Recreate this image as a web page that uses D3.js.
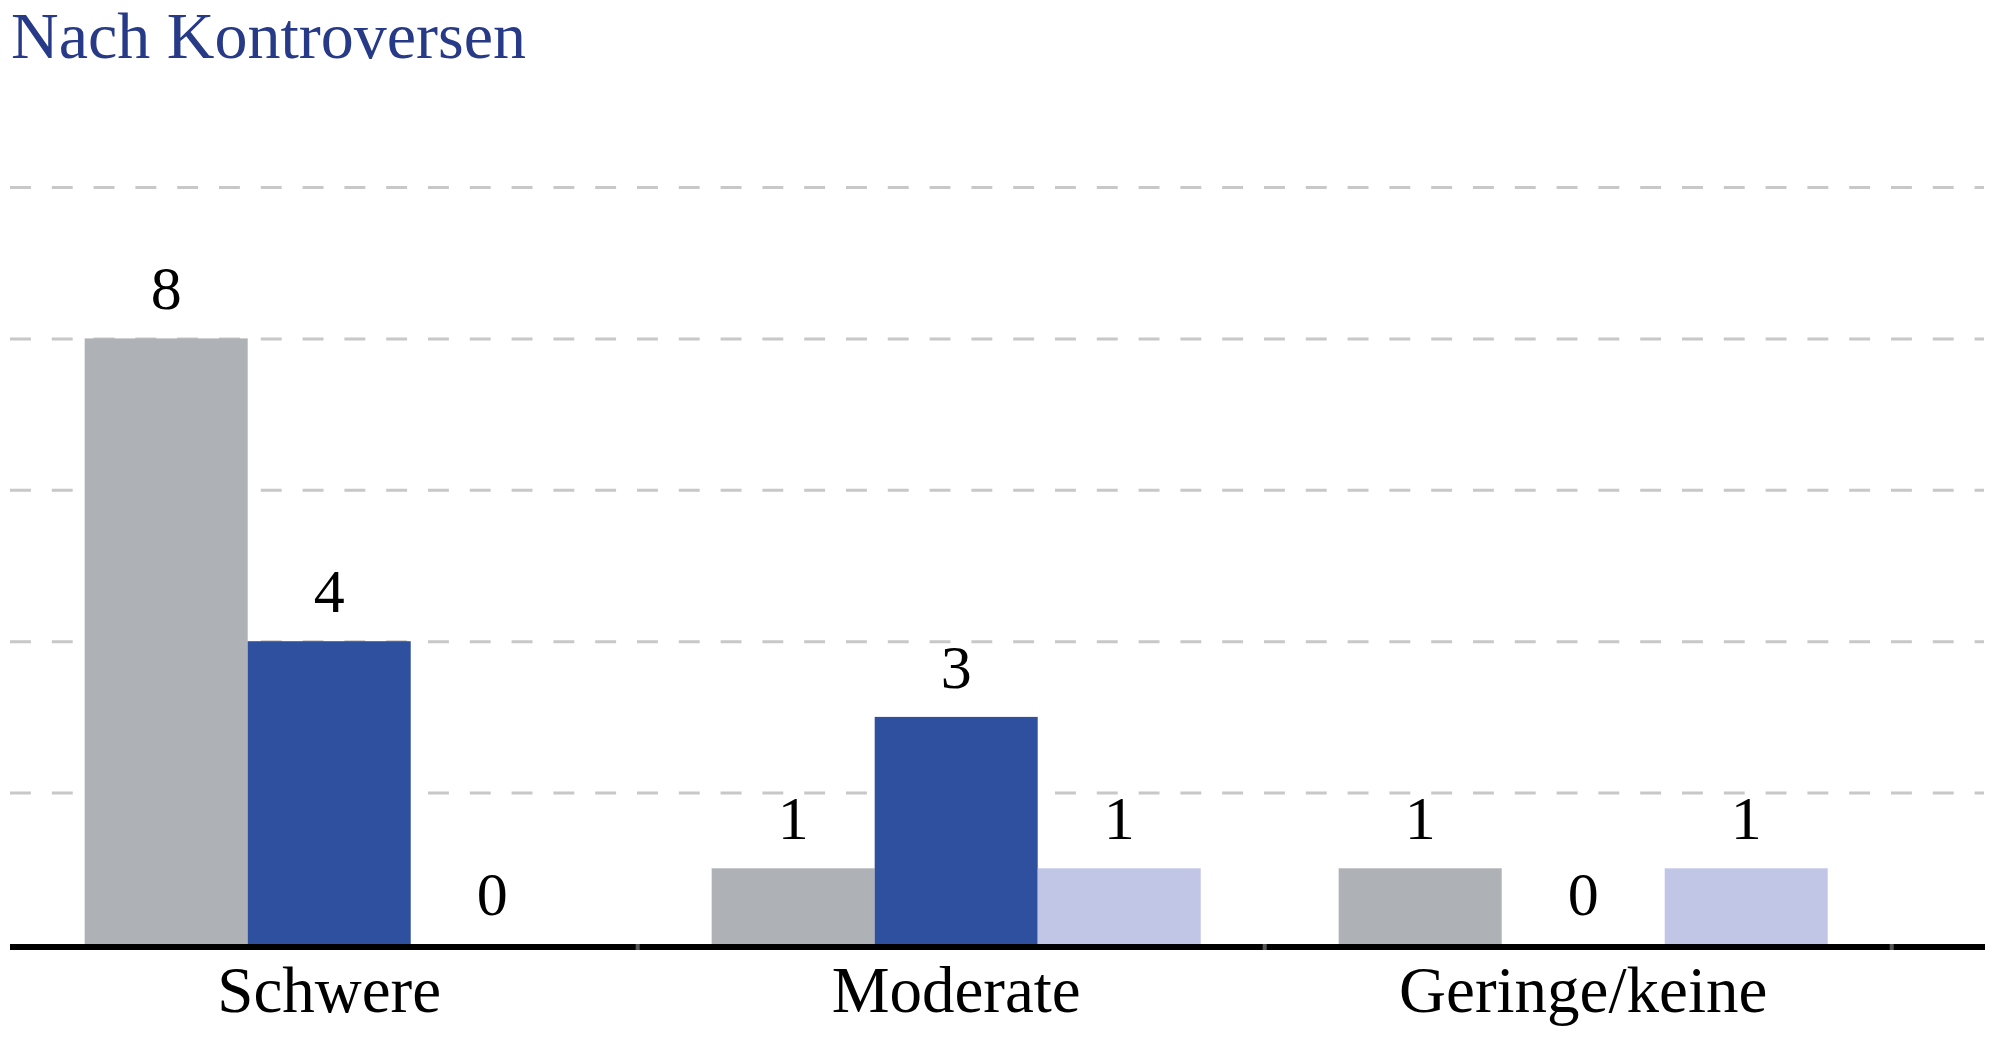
<!DOCTYPE html>
<html>
<head>
<meta charset="utf-8">
<script src="https://cdn.jsdelivr.net/npm/d3@7"></script>
<style>
  html, body { margin: 0; padding: 0; background: #fff; }
  svg { display: block; }
  text { font-family: "Liberation Serif", "Times New Roman", serif; }
</style>
</head>
<body>
<svg id="chart" width="2002" height="1042"></svg>
<script>
// ---- Data ----
const title = "Nach Kontroversen";
const categories = ["Schwere", "Moderate", "Geringe/keine"];
const seriesNames = ["Reihe 1", "Reihe 2", "Reihe 3"];
const series1 = [8, 1, 1];
const series2 = [4, 3, 0];
const series3 = [0, 1, 1];
const seriesValues = [series1, series2, series3];
const gridTicks = [2, 4, 6, 8, 10];
const seriesColors = ["#aeb1b5", "#2f4f9f", "#c2c6e6"];

// ---- Layout ----
const W = 2002, H = 1042;
const svg = d3.select("#chart");

const x0 = d3.scaleBand()
  .domain(categories)
  .range([15.7, 1896.7])
  .paddingInner(0.22)
  .paddingOuter(0.11);

const x1 = d3.scaleBand()
  .domain(seriesNames)
  .range([0, x0.bandwidth()])
  .padding(0);

const y = d3.scaleLinear()
  .domain([0, 10])
  .range([944, 187]);

// Title
svg.append("text")
  .attr("x", 11)
  .attr("y", 58)
  .attr("font-size", 66)
  .attr("fill", "#263a87")
  .text(title);

// Gridlines
const gridAxis = d3.axisLeft(y)
  .tickValues(gridTicks)
  .tickSize(-(1984 - 10))
  .tickFormat("");
const gg = svg.append("g")
  .attr("transform", "translate(10,0)")
  .call(gridAxis);
gg.select(".domain").remove();
gg.selectAll(".tick line")
  .attr("stroke", "#c8c8c8")
  .attr("stroke-width", 3)
  .attr("stroke-dasharray", "20.9,20.9")
  .attr("stroke-dashoffset", 0);

// Bars
const data = categories.map((c, ci) => ({
  cat: c,
  vals: seriesNames.map((s, si) => ({ s, si, v: seriesValues[si][ci] }))
}));

const groups = svg.append("g").selectAll("g")
  .data(data)
  .join("g")
  .attr("transform", d => `translate(${x0(d.cat)},0)`);

groups.selectAll("rect")
  .data(d => d.vals)
  .join("rect")
  .attr("x", d => x1(d.s))
  .attr("y", d => y(d.v))
  .attr("width", x1.bandwidth())
  .attr("height", d => y(0) - y(d.v))
  .attr("fill", d => seriesColors[d.si]);

groups.selectAll("text.val")
  .data(d => d.vals)
  .join("text")
  .attr("class", "val")
  .attr("x", d => x1(d.s) + x1.bandwidth() / 2)
  .attr("y", d => y(d.v) - 29)
  .attr("text-anchor", "middle")
  .attr("font-size", 62)
  .attr("fill", "#000")
  .text(d => d.v);

// X axis
const xAxis = d3.axisBottom(x0).tickSize(0).tickPadding(0);
const xg = svg.append("g")
  .attr("transform", `translate(0,${y(0)})`)
  .call(xAxis);
xg.select(".domain").remove();
xg.selectAll(".tick text")
  .attr("y", 68)
  .attr("dy", 0)
  .attr("font-size", 65)
  .attr("fill", "#000")
  .style("font-family", "'Liberation Serif', serif");

// axis baseline
svg.append("line")
  .attr("x1", 10).attr("x2", 1985)
  .attr("y1", y(0) + 3).attr("y2", y(0) + 3)
  .attr("stroke", "#000")
  .attr("stroke-width", 6);

// faint band-boundary ticks
const boundaries = categories.map(c => x0(c) + x0.bandwidth() + x0.step() * x0.paddingInner() / 2);
svg.append("g").selectAll("rect")
  .data(boundaries)
  .join("rect")
  .attr("x", d => d - 7)
  .attr("y", y(0))
  .attr("width", 4)
  .attr("height", 6)
  .attr("fill", "#555");
</script>
</body>
</html>
